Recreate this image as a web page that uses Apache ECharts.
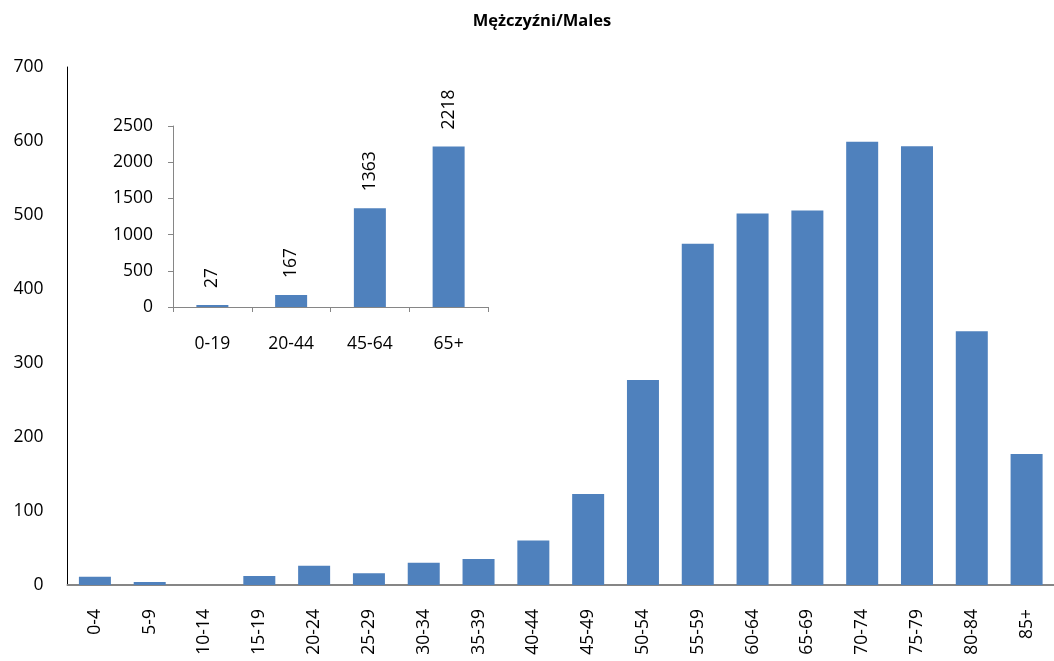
<!DOCTYPE html>
<html>
<head>
<meta charset="utf-8">
<script src="https://cdn.jsdelivr.net/npm/echarts@6/dist/echarts.min.js"></script>
<style>html,body{margin:0;padding:0;background:#fff}#c{width:1054px;height:661px}</style>
</head>
<body>
<div id="c"></div>
<script>
const titleText = 'Mężczyźni/Males';
const ageGroups = ['0-4','5-9','10-14','15-19','20-24','25-29','30-34','35-39','40-44','45-49','50-54','55-59','60-64','65-69','70-74','75-79','80-84','85+'];
const maleCounts = [11,4,0,12,26,16,30,35,60,123,277,461,502,506,599,593,343,177];
const broadGroups = ['0-19','20-44','45-64','65+'];
const broadCounts = [27,167,1363,2218];

const FONT = '"Open Sans", sans-serif';
const FS = 17.5;
const BAR = '#4F81BD';

const chart = echarts.init(document.getElementById('c'), null, {renderer:'canvas'});
chart.setOption({
  animation: false,
  backgroundColor: '#fff',
  title: {
    text: titleText, left: 537, top: 8, textAlign: 'center',
    textStyle: {fontFamily: FONT, fontSize: 16.5, fontWeight: 'bold', color: '#000'}
  },
  grid: [
    {left: 67.5, top: 67, width: 995, bottom: 76, containLabel: false},
    {left: 173, top: 126, width: 315, height: 181, containLabel: false}
  ],
  xAxis: [
    {
      type: 'category', gridIndex: 0, data: ageGroups,
      axisLine: {lineStyle: {color: '#868686', width: 2}},
      axisTick: {show: false},
      axisLabel: {rotate: 90, interval: 0, margin: 24, fontFamily: FONT, fontSize: FS, color: '#000'}
    },
    {
      type: 'category', gridIndex: 1, data: broadGroups,
      axisLine: {lineStyle: {color: '#868686', width: 1}},
      axisTick: {show: true, length: 5, lineStyle: {color: '#868686'}},
      axisLabel: {interval: 0, margin: 28, fontFamily: FONT, fontSize: FS, color: '#000'}
    }
  ],
  yAxis: [
    {
      type: 'value', gridIndex: 0, min: 0, max: 700, interval: 100,
      axisLine: {show: true, lineStyle: {color: '#000', width: 1}},
      axisTick: {show: false},
      splitLine: {show: false},
      axisLabel: {margin: 24, fontFamily: FONT, fontSize: FS, color: '#000'}
    },
    {
      type: 'value', gridIndex: 1, min: 0, max: 2500, interval: 500,
      axisLine: {show: true, lineStyle: {color: '#868686', width: 1}},
      axisTick: {show: true, length: 5, lineStyle: {color: '#868686'}},
      splitLine: {show: false},
      axisLabel: {margin: 20, fontFamily: FONT, fontSize: FS, color: '#000', formatter: v => String(v)}
    }
  ],
  series: [
    {
      type: 'bar', xAxisIndex: 0, yAxisIndex: 0, data: maleCounts,
      barWidth: 32,
      itemStyle: {color: BAR}
    },
    {
      type: 'bar', xAxisIndex: 1, yAxisIndex: 1, data: broadCounts,
      barWidth: 32,
      itemStyle: {color: BAR},
      label: {
        show: true, position: 'top', rotate: 90, align: 'left', verticalAlign: 'middle',
        distance: 17, fontFamily: FONT, fontSize: FS, color: '#000'
      }
    }
  ]
});
</script>
</body>
</html>
